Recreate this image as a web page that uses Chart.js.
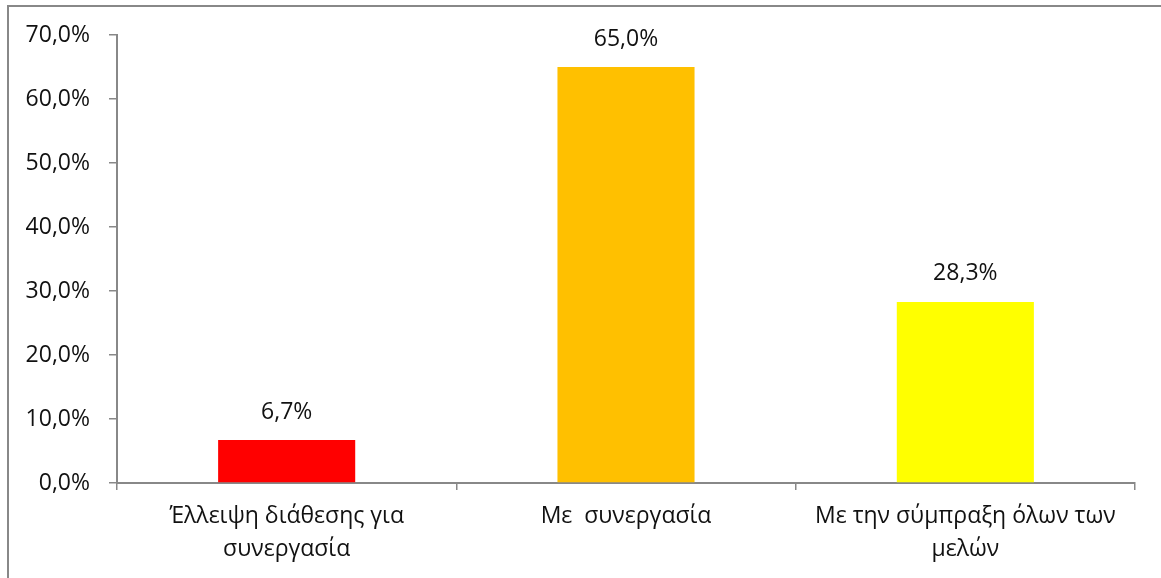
<!DOCTYPE html>
<html lang="el">
<head>
    <meta charset="UTF-8">
    <title>Συνεργασία</title>
    <script src="https://cdn.jsdelivr.net/npm/chart.js@4.4.0/dist/chart.umd.min.js"></script>
    <style>
        html, body { margin: 0; padding: 0; background: #fff; }
        #wrap { position: relative; width: 1161px; height: 578px; }
    </style>
</head>
<body>
    <div id="wrap">
        <canvas id="cooperationChart" width="1161" height="578"></canvas>
    </div>

    <script>
        const categories = [
            ['Έλλειψη διάθεσης για', 'συνεργασία'],
            'Με  συνεργασία',
            ['Με την σύμπραξη όλων των', 'μελών']
        ];
        const percentages = [6.7, 65.0, 28.3];
        const barColors = ['#FF0000', '#FFC000', '#FFFF00'];
        const yTicks = [0, 10, 20, 30, 40, 50, 60, 70];

        const fontFamily = "'Open Sans', 'Noto Sans', sans-serif";
        const fontSize = 23;
        const pct = v => v.toFixed(1).replace('.', ',') + '%';

        // outer frame (only left and top edges fall inside the page)
        const framePlugin = {
            id: 'frame',
            beforeDraw(chart) {
                const ctx = chart.ctx;
                ctx.save();
                ctx.strokeStyle = '#888888';
                ctx.lineWidth = 2;
                ctx.beginPath();
                ctx.moveTo(8, 600);
                ctx.lineTo(8, 6);
                ctx.lineTo(1200, 6);
                ctx.stroke();
                ctx.restore();
            }
        };

        // value labels above each bar
        const valueLabels = {
            id: 'valueLabels',
            afterDatasetsDraw(chart) {
                const ctx = chart.ctx;
                const meta = chart.getDatasetMeta(0);
                ctx.save();
                ctx.font = fontSize + 'px ' + fontFamily;
                ctx.fillStyle = '#111';
                ctx.textAlign = 'center';
                ctx.textBaseline = 'middle';
                meta.data.forEach((bar, i) => {
                    ctx.fillText(pct(percentages[i]), bar.x, bar.y - 28);
                });
                ctx.restore();
            }
        };

        new Chart('cooperationChart', {
            type: 'bar',
            data: {
                labels: categories,
                datasets: [{
                    data: percentages,
                    backgroundColor: barColors,
                    borderWidth: 0,
                    categoryPercentage: 1,
                    barPercentage: 0.404
                }]
            },
            options: {
                responsive: false,
                animation: false,
                layout: { padding: { left: 0, top: 35, right: 26, bottom: 0 } },
                plugins: {
                    legend: { display: false },
                    tooltip: { enabled: false }
                },
                scales: {
                    x: {
                        grid: {
                            offset: true,
                            drawOnChartArea: false,
                            drawTicks: true,
                            tickLength: 7,
                            color: '#888888',
                            lineWidth: 1.5
                        },
                        border: { display: true, color: '#888888', width: 2 },
                        ticks: {
                            color: '#111',
                            padding: 10,
                            maxRotation: 0,
                            autoSkip: false,
                            font: { family: fontFamily, size: fontSize, lineHeight: 1.43 }
                        },
                        afterFit(scale) { scale.height = 95; }
                    },
                    y: {
                        min: 0,
                        max: 70,
                        afterBuildTicks(scale) {
                            scale.ticks = yTicks.map(v => ({ value: v }));
                        },
                        grid: {
                            drawOnChartArea: false,
                            drawTicks: true,
                            tickLength: 8,
                            color: '#888888',
                            lineWidth: 1.5
                        },
                        border: { display: true, color: '#888888', width: 2 },
                        ticks: {
                            color: '#111',
                            padding: 19,
                            callback: v => pct(v),
                            font: { family: fontFamily, size: fontSize }
                        },
                        afterFit(scale) { scale.width = 117; }
                    }
                }
            },
            plugins: [framePlugin, valueLabels]
        });
    </script>
</body>
</html>
